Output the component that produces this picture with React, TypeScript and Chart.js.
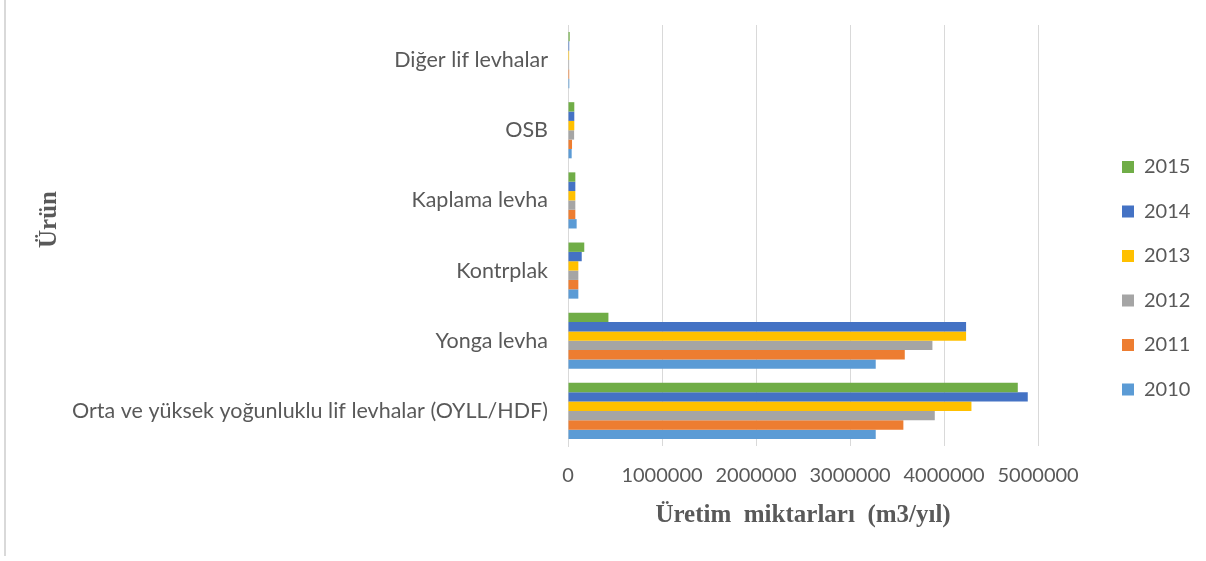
import React, { useEffect, useRef } from "react";
import { Chart, registerables } from "chart.js";

Chart.register(...registerables);

const categories = [
  "Diğer lif levhalar",
  "OSB",
  "Kaplama levha",
  "Kontrplak",
  "Yonga levha",
  "Orta ve yüksek yoğunluklu lif levhalar (OYLL/HDF)",
];

const years = ["2015", "2014", "2013", "2012", "2011", "2010"];

const values2015 = [18000, 67000, 78000, 173000, 430000, 4784000];
const values2014 = [13000, 67000, 78000, 146000, 4234000, 4890000];
const values2013 = [12000, 67000, 78000, 110000, 4234000, 4291000];
const values2012 = [12000, 65000, 78000, 110000, 3876000, 3901000];
const values2011 = [13000, 43000, 78000, 110000, 3582000, 3567000];
const values2010 = [14000, 39000, 92000, 110000, 3273000, 3273000];

const seriesValues = [values2015, values2014, values2013, values2012, values2011, values2010];
const seriesColors = ["#70AD47", "#4472C4", "#FFC000", "#A5A5A5", "#ED7D31", "#5B9BD5"];

const xTickMax = 5000000;
const xTickStep = 1000000;

const xTitle = "Üretim  miktarları  (m3/yıl)";
const yTitle = "Ürün";

const adjustPlugin = {
  id: "adjustPositions",
  afterLayout(chart: any) {
    const lg = chart.legend;
    if (lg) {
      const dx = 1097.5 - lg.left;
      lg.left += dx;
      lg.right += dx;
      lg.top -= 14.75;
      lg.bottom -= 14.75;
    }
    const y = chart.scales.y;
    if (y && !y.__titlePatched) {
      const orig = y.drawTitle.bind(y);
      y.drawTitle = () => {
        y.top -= 16;
        y.bottom -= 16;
        orig();
        y.top += 16;
        y.bottom += 16;
      };
      y.__titlePatched = true;
    }
  },
};

export default function App() {
  const ref = useRef<HTMLCanvasElement>(null);

  useEffect(() => {
    Chart.defaults.font.family = "Lato";
    Chart.defaults.color = "#595959";
    const chart = new Chart(ref.current as HTMLCanvasElement, {
      type: "bar",
      data: {
        labels: categories,
        datasets: years.map((yr, i) => ({
          label: yr,
          data: seriesValues[i],
          backgroundColor: seriesColors[i],
          borderWidth: 0,
          barPercentage: 1,
          categoryPercentage: 0.8,
        })),
      },
      options: {
        indexAxis: "y",
        responsive: false,
        animation: false,
        layout: { padding: { left: 0, top: 25, right: 65, bottom: 0 } },
        plugins: {
          tooltip: { enabled: false },
          legend: {
            position: "right",
            labels: {
              boxWidth: 12,
              boxHeight: 12,
              padding: 24.5,
              color: "#595959",
              font: { family: "Lato", size: 20 },
            },
          },
        },
        scales: {
          x: {
            min: 0,
            max: xTickMax,
            afterFit: (s: any) => {
              s.height = 115;
            },
            ticks: {
              stepSize: xTickStep,
              padding: 18,
              color: "#595959",
              font: { family: "Lato", size: 20 },
              callback: (v: any) => String(v),
              maxRotation: 0,
            },
            grid: { color: "#D9D9D9", drawTicks: false, lineWidth: 1 },
            border: { display: false },
            title: {
              display: true,
              text: xTitle,
              color: "#595959",
              font: { family: "Liberation Serif", size: 25, weight: "bold" },
              padding: { top: 0, bottom: 30.5 },
            },
          },
          y: {
            afterFit: (s: any) => {
              s.width = 568;
              s.paddingTop = 0;
              s.paddingBottom = 0;
            },
            ticks: {
              padding: 20,
              autoSkip: false,
              color: "#595959",
              font: { family: "Lato", size: 21.5 },
            },
            grid: { display: false, drawTicks: false },
            border: { display: true, color: "#D9D9D9", width: 1 },
            title: {
              display: true,
              text: yTitle,
              color: "#595959",
              font: { family: "Liberation Serif", size: 25, weight: "bold" },
              padding: { top: 35, bottom: 0 },
            },
          },
        },
      },
      plugins: [adjustPlugin],
    } as any);
    return () => chart.destroy();
  }, []);

  return (
    <div
      style={{
        position: "fixed",
        left: 0,
        top: 0,
        width: 1206,
        height: 561,
        background: "#ffffff",
        overflow: "hidden",
      }}
    >
      <div
        style={{
          position: "absolute",
          left: 4,
          top: 0,
          width: 2,
          height: 556,
          background: "#D9D9D9",
        }}
      />
      <canvas
        ref={ref}
        width={1206}
        height={561}
        style={{ position: "absolute", left: 0, top: 0, width: 1206, height: 561 }}
      />
    </div>
  );
}
